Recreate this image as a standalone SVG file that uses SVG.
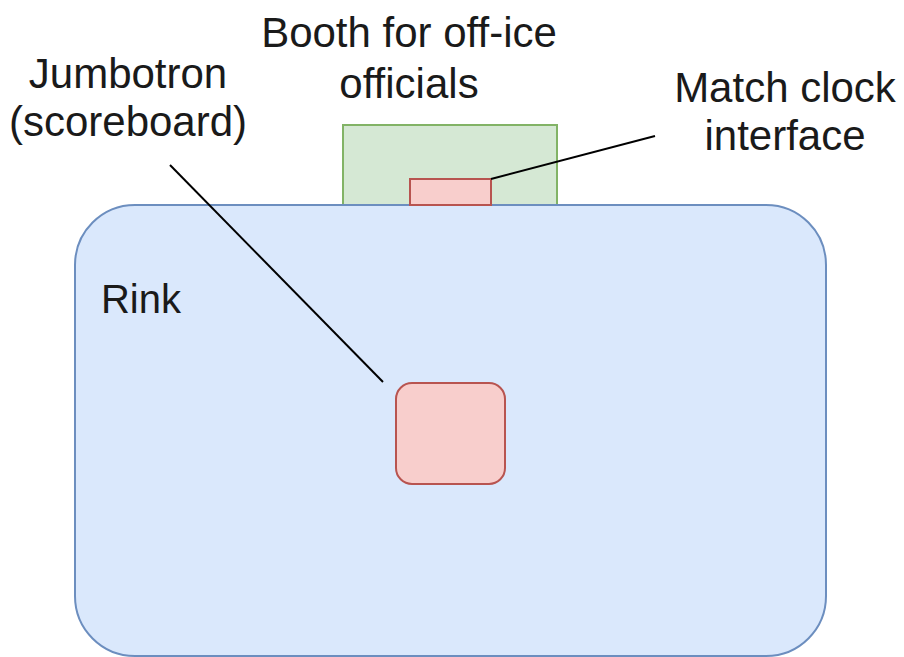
<svg xmlns="http://www.w3.org/2000/svg" width="904" height="657" viewBox="0 0 904 657">
<style>
.lbl{font-family:"Liberation Sans",Arial,sans-serif;font-size:42px;fill:#1a1a1a;text-anchor:middle}
.rk{font-family:"Liberation Sans",Arial,sans-serif;font-size:40px;fill:#1a1a1a;text-anchor:middle}
.blue{fill:#dae8fc;stroke:#6c8ebf;stroke-width:2}
.green{fill:#d5e8d4;stroke:#82b366;stroke-width:2}
.red{fill:#f8cecc;stroke:#b85450;stroke-width:2}
.conn{stroke:#000;stroke-width:2;fill:none}
</style>
<rect width="904" height="657" fill="#fff"/>
<g id="booth"><rect class="green" x="343" y="125" width="214" height="81"/></g>
<g id="rink"><rect class="blue" x="75" y="205" width="751" height="451" rx="60" ry="60"/>
<text class="rk" x="141" y="313">Rink</text></g>
<g id="match-clock"><rect class="red" x="410" y="179" width="81" height="26"/></g>
<g id="jumbotron"><rect class="red" x="396" y="383" width="109" height="101" rx="16" ry="16"/></g>
<g id="labels">
<text class="lbl" x="409" y="47">Booth for off-ice</text>
<text class="lbl" x="409" y="98">officials</text>
<text class="lbl" x="128" y="88">Jumbotron</text>
<text class="lbl" x="128" y="136">(scoreboard)</text>
<text class="lbl" x="785" y="102">Match clock</text>
<text class="lbl" x="785" y="150">interface</text>
</g>
<g id="connectors">
<line class="conn" x1="170" y1="165" x2="383" y2="382"/>
<line class="conn" x1="491" y1="179" x2="655" y2="136"/>
</g>
</svg>
